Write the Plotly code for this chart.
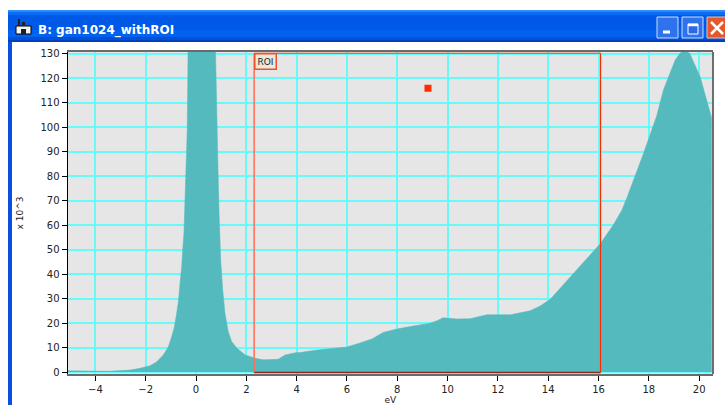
import plotly.graph_objects as go

W, H = 725, 405

# Spectrum (eV, counts x 10^3). The main peak runs off the top of the scale.
energy_ev = [-5.1, -4.3, -3.5, -2.62, -2.23, -1.83, -1.56, -1.30, -1.10, -0.97, -0.86, -0.77, -0.70,
             -0.64, -0.57, -0.53, -0.48, -0.44, -0.40, -0.35, -0.31, 0.2, 0.755, 0.795, 0.835, 0.875,
             0.915, 0.954, 0.98, 1.06, 1.15, 1.28, 1.42, 1.62, 1.95, 2.35, 2.66, 3.26, 3.54, 4.0,
             4.14, 4.80, 5.99, 6.52, 6.99, 7.44, 7.98, 8.63, 9.30, 9.58, 9.82, 10.37, 10.89, 11.56,
             12.49, 13.28, 13.68, 14.08, 14.54, 14.94, 15.53, 16.08, 16.58, 16.93, 17.12, 17.45,
             17.79, 18.12, 18.32, 18.58, 18.85, 19.05, 19.24, 19.4, 19.62, 19.84, 20.04, 20.24, 20.5]
counts_k = [0.5, 0.3, 0.3, 0.8, 1.5, 2.6, 4.2, 7.0, 10.3, 14.4, 18.5, 24.0, 29.0,
            36.0, 43.0, 50.0, 57.0, 70.0, 87.5, 99.0, 140.0, 140.0, 140.0, 121.0, 92.0, 82.0,
            65.0, 53.0, 45.8, 33.5, 24.0, 16.5, 12.4, 9.8, 7.0, 5.6, 5.0, 5.2, 7.0, 8.0,
            8.0, 9.0, 10.2, 11.9, 13.5, 16.2, 17.6, 18.8, 19.9, 21.0, 22.2, 21.7, 21.8, 23.4,
            23.4, 25.0, 27.0, 29.7, 34.9, 39.7, 46.5, 52.6, 60.0, 66.2, 71.0, 79.8,
            89.4, 99.0, 105.0, 115.3, 122.8, 127.6, 130.3, 131.5, 130.3, 125.5, 120.7, 113.2, 103.7]

roi_x = [2.31, 16.08]
roi_y = [-0.2, 130.3]
cursor_x = [9.22]
cursor_y = [116]
x_ticks = [-4, -2, 0, 2, 4, 6, 8, 10, 12, 14, 16, 18, 20]
y_ticks = [0, 10, 20, 30, 40, 50, 60, 70, 80, 90, 100, 110, 120, 130]
window_title = "B: gan1024_withROI"


def px(x):
    return x / W


def py(y):
    return 1 - y / H


def rect(x0, y0, x1, y1, fill, line=None, lw=0):
    return dict(type="rect", xref="paper", yref="paper", x0=px(x0), x1=px(x1), y0=py(y1), y1=py(y0),
                fillcolor=fill, line=dict(color=line or fill, width=lw), layer="above")


def seg(x0, y0, x1, y1, color, lw):
    return dict(type="line", xref="paper", yref="paper", x0=px(x0), x1=px(x1), y0=py(y0), y1=py(y1),
                line=dict(color=color, width=lw), layer="above")


fig = go.Figure()
fig.add_trace(go.Scatter(x=energy_ev, y=counts_k, mode="lines", fill="tozeroy",
                         fillcolor="#55babd", line=dict(color="#55babd", width=0.5),
                         hoverinfo="x+y", showlegend=False))
fig.add_trace(go.Scatter(x=cursor_x, y=cursor_y, mode="markers",
                         marker=dict(symbol="square", size=7, color="#ff2a00"), showlegend=False))

shapes = []
# window chrome
shapes.append(rect(8, 10, 12, 405, "#0a50e0"))
title_bands = [(10, 12, "#2a8cf8"), (12, 15, "#0a6cf4"), (15, 30, "#0058e6"), (30, 37, "#0062ee"),
               (37, 40, "#0050d8"), (40, 42, "#0040c0")]
for y0, y1, c in title_bands:
    shapes.append(rect(8, y0, 725, y1, c))
# title-bar icon
shapes.append(rect(16, 26, 31, 34, "#f4f4f4", "#000000", 1))
shapes.append(rect(21, 29, 26, 34, "#202020"))
shapes.append(rect(18, 19, 20, 26, "#202020"))
shapes.append(rect(22, 22, 25, 26, "#202020"))
# buttons
shapes.append(rect(657, 17, 678, 38, "#2f72ee", "#c8dcfa", 1))
shapes.append(seg(663, 32, 670, 32, "#ffffff", 3))
shapes.append(rect(682, 17, 703, 38, "#2f72ee", "#c8dcfa", 1))
shapes.append(rect(688, 24, 698, 34, "#2a6ae6", "#ffffff", 1))
shapes.append(seg(688, 25, 698, 25, "#ffffff", 2.5))
shapes.append(rect(707, 17, 727, 38, "#e4582c", "#f0c0a8", 1))
shapes.append(seg(711, 22, 723, 34, "#ffffff", 2.5))
shapes.append(seg(723, 22, 711, 34, "#ffffff", 2.5))
# right frame of plot
shapes.append(seg(713, 52, 713, 374, "#6e6e6e", 2))
# ROI box
shapes.append(dict(type="line", xref="x", yref="y", x0=roi_x[0], x1=roi_x[0], y0=roi_y[0], y1=roi_y[1],
                   line=dict(color="#ff6f5c", width=1.5), layer="above"))
shapes.append(dict(type="line", xref="x", yref="y", x0=roi_x[1], x1=roi_x[1], y0=roi_y[0], y1=roi_y[1],
                   line=dict(color="#ff2a00", width=1.2), layer="above"))
shapes.append(dict(type="line", xref="x", yref="y", x0=roi_x[0], x1=roi_x[1], y0=roi_y[1], y1=roi_y[1],
                   line=dict(color="#ff3a10", width=1), layer="above"))
shapes.append(dict(type="line", xref="x", yref="y", x0=roi_x[0], x1=roi_x[1], y0=roi_y[0], y1=roi_y[0],
                   line=dict(color="#8a2a1a", width=1.5), layer="above"))

annotations = [
    dict(text="<b>" + window_title + "</b>", xref="paper", yref="paper", x=px(36), y=py(30), xanchor="left",
         yanchor="middle", showarrow=False, font=dict(family="DejaVu Sans", size=12, color="#ffffff")),
    dict(text="ROI", xref="x", yref="y", x=roi_x[0], y=roi_y[1], xanchor="left", yanchor="top",
         showarrow=False, font=dict(family="DejaVu Sans", size=9, color="#222222"),
         bgcolor="#ece9d8", bordercolor="#f0502c", borderwidth=1.5, borderpad=2),
]

fig.update_layout(
    width=W, height=H, autosize=False,
    margin=dict(l=0, r=0, t=0, b=0),
    paper_bgcolor="#ffffff", plot_bgcolor="#e6e6e6",
    showlegend=False, shapes=shapes, annotations=annotations,
    font=dict(family="DejaVu Sans", size=10, color="#222222"),
    xaxis=dict(domain=[67.5 / W, 713 / W], range=[-5.11, 20.55], tickmode="array", tickvals=x_ticks,
               ticks="outside", ticklen=5, tickcolor="#000000", tickwidth=1,
               showgrid=True, gridcolor="#66fafa", gridwidth=1.5, zeroline=False,
               showline=True, linecolor="#6a6a6a", linewidth=2, mirror=True,
               automargin=False, tickfont=dict(size=10),
               title=dict(text="eV", font=dict(size=9), standoff=4)),
    yaxis=dict(domain=[1 - 374 / H, 1 - 52 / H], range=[-0.8, 130.8], tickmode="array", tickvals=y_ticks,
               ticks="outside", ticklen=5, tickcolor="#000000", tickwidth=1,
               showgrid=True, gridcolor="#66fafa", gridwidth=1.5, zeroline=False,
               showline=True, linecolor="#000000", linewidth=1,
               automargin=False, tickfont=dict(size=10),
               title=dict(text="x 10^3", font=dict(size=9), standoff=15)),
)

fig.write_html("out.html", config={"displayModeBar": False},
               post_script="document.body.style.margin='0';document.body.style.overflow='hidden';")
